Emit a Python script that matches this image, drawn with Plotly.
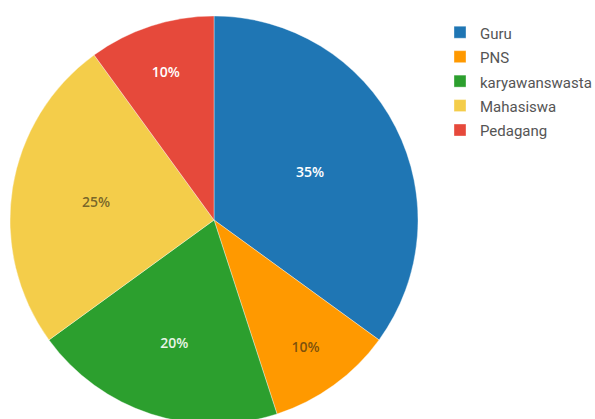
import plotly.graph_objects as go

# Occupation breakdown of respondents
labels = ["Guru", "PNS", "karyawanswasta", "Mahasiswa", "Pedagang"]
values = [35, 10, 20, 25, 10]
colors = ["#1f76b4", "#ff9900", "#2c9f2e", "#f4cd4a", "#e6493b"]
text_colors = ["#ffffff", "rgba(40,35,20,0.62)", "#e8f4e6", "rgba(40,35,20,0.62)", "#ffffff"]

W, H = 595, 430

# legend entries rendered at 15px inside a slightly taller legend row
legend_labels = [f"<span style='font-size:15px'>{name}</span>" for name in labels]

fig = go.Figure(
    go.Pie(
        labels=legend_labels,
        values=values,
        sort=False,
        direction="clockwise",
        rotation=0,
        marker=dict(colors=colors, line=dict(color="rgba(255,255,255,0.6)", width=0.6)),
        texttemplate="%{percent:.0%}",
        textposition="inside",
        insidetextorientation="horizontal",
        textfont=dict(family="Open Sans", size=14, weight=600, color=text_colors),
        customdata=labels,
        hovertemplate="%{customdata}: %{percent:.0%}<extra></extra>",
        domain=dict(x=[10 / W, 418 / W], y=[1 - 424 / H, 1 - 16 / H]),
    )
)

fig.update_layout(
    width=W,
    height=H,
    margin=dict(l=0, r=0, t=0, b=0, autoexpand=False),
    paper_bgcolor="white",
    plot_bgcolor="white",
    legend=dict(
        x=440 / W,
        xanchor="left",
        y=1 - 15 / H,
        yanchor="top",
        font=dict(family="Roboto", size=16.5, color="#555555"),
        bgcolor="rgba(0,0,0,0)",
    ),
)

fig.write_html(
    "out.html",
    post_script="document.documentElement.style.overflow='hidden';document.body.style.overflow='hidden';",
)
